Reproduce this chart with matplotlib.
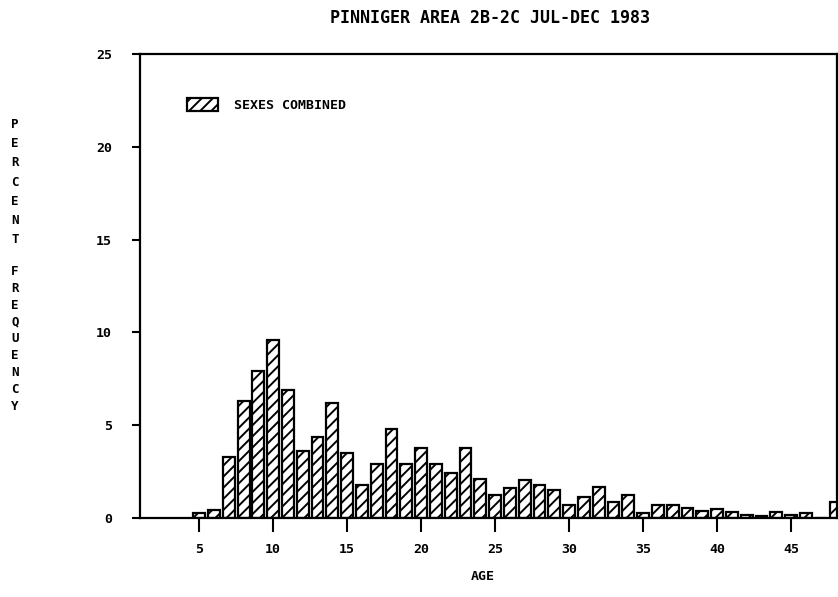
import matplotlib
matplotlib.use("Agg")
import matplotlib.pyplot as plt

ages = list(range(5, 49))
pct = [0.25, 0.43, 3.29, 6.33, 7.94, 9.6, 6.92, 3.61, 4.36, 6.22,
       3.5, 1.8, 2.9, 4.77, 2.9, 3.79, 2.9, 2.4, 3.78, 2.09,
       1.25, 1.59, 2.07, 1.79, 1.5, 0.7, 1.11, 1.68, 0.88, 1.22,
       0.25, 0.7, 0.7, 0.52, 0.38, 0.47, 0.34, 0.16, 0.11, 0.3,
       0.16, 0.25, 0.0, 0.88]
xticks = [5, 10, 15, 20, 25, 30, 35, 40, 45]
yticks = [0, 5, 10, 15, 20, 25]

plt.rcParams['font.family'] = 'DejaVu Sans Mono'
plt.rcParams['font.weight'] = 'bold'
plt.rcParams['hatch.linewidth'] = 1.4

fig = plt.figure(figsize=(8.38, 5.97), dpi=100)
ax = fig.add_axes([140 / 838, 79 / 597, 697 / 838, 464 / 597])

ax.bar(ages, pct, width=0.8, color='white', edgecolor='black',
       linewidth=1.6, hatch='///', label='SEXES COMBINED')

ax.set_xlim(1.0, 48.1)
ax.set_ylim(0, 25)
ax.set_xticks(xticks)
ax.set_yticks(yticks)
ax.tick_params(axis='x', direction='out', length=10, width=1.5, pad=8, labelsize=9.5)
ax.tick_params(axis='y', direction='out', length=6, width=1.5, pad=14, labelsize=9.5)
for s in ax.spines.values():
    s.set_linewidth(1.6)

leg = ax.legend(loc='upper left', bbox_to_anchor=(0.05, 0.93), frameon=False,
                fontsize=9.5, handlelength=2.4, handleheight=1.1, handletextpad=1.2)

fig.text(490 / 838, 1 - 18 / 597, 'PINNIGER AREA 2B-2C JUL-DEC 1983',
         ha='center', va='center', fontsize=12, fontweight='bold')
fig.text(483 / 838, 1 - 577 / 597, 'AGE', ha='center', va='center',
         fontsize=9.5, fontweight='bold')
fig.text(15 / 838, 1 - 182 / 597, '\n'.join('PERCENT'), ha='center',
         va='center', fontsize=9, fontweight='bold', linespacing=1.62)
fig.text(15 / 838, 1 - 339 / 597, '\n'.join('FREQUENCY'), ha='center',
         va='center', fontsize=9, fontweight='bold', linespacing=1.38)

fig.savefig('out.png', dpi=100)
